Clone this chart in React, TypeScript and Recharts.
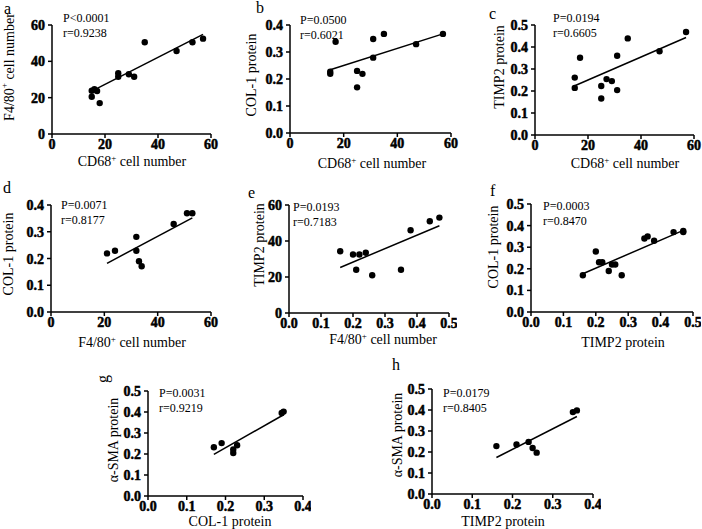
import React from "react";
import { Scatter, ScatterChart, XAxis, YAxis } from "recharts";

// panel a: CD68+ vs F4/80+
const aX = [15, 15, 16, 17, 18, 25, 25, 29, 31, 35, 47, 53, 57];
const aY = [20.5, 23.8, 24.6, 23.7, 17, 33.4, 31.5, 32.9, 31.5, 50.5, 45.7, 50.5, 52.5];
const aFit = [[15, 23.6], [57, 54.8]];

// panel b: CD68+ vs COL-1
const bX = [15, 15, 17, 25, 27, 25, 31, 31, 35, 47, 57];
const bY = [0.227, 0.219, 0.338, 0.23, 0.219, 0.169, 0.348, 0.279, 0.367, 0.329, 0.367];
const bFit = [[15, 0.234], [57, 0.367]];

// panel c: CD68+ vs TIMP2
const cX = [15, 15, 17, 25, 25, 27, 29, 31, 31, 35, 47, 57];
const cY = [0.261, 0.214, 0.351, 0.223, 0.166, 0.254, 0.245, 0.36, 0.204, 0.439, 0.381, 0.468];
const cFit = [[15, 0.224], [57, 0.443]];

// panel d: F4/80+ vs COL-1
const dX = [21, 24, 32, 32, 33, 34, 46, 51, 53];
const dY = [0.219, 0.229, 0.281, 0.229, 0.19, 0.171, 0.329, 0.369, 0.369];
const dFit = [[21, 0.182], [53, 0.352]];

// panel e
const eX = [0.16, 0.2, 0.22, 0.24, 0.21, 0.26, 0.35, 0.38, 0.44, 0.47];
const eY = [34.3, 32.5, 32.5, 33.5, 24, 21, 24, 46, 51, 53];
const eFit = [[0.16, 25.3], [0.47, 48.5]];

// panel f: TIMP2 vs COL-1
const fX = [0.16, 0.2, 0.21, 0.22, 0.24, 0.25, 0.26, 0.28, 0.35, 0.36, 0.38, 0.44, 0.47, 0.47];
const fY = [0.17, 0.28, 0.23, 0.23, 0.19, 0.22, 0.22, 0.17, 0.34, 0.35, 0.33, 0.37, 0.375, 0.37];
const fFit = [[0.16, 0.177], [0.47, 0.378]];

// panel g: COL-1 vs a-SMA
const gX = [0.17, 0.19, 0.22, 0.22, 0.23, 0.345, 0.35];
const gY = [0.232, 0.252, 0.222, 0.205, 0.242, 0.395, 0.402];
const gFit = [[0.17, 0.198], [0.35, 0.387]];

// panel h: TIMP2 vs a-SMA
const hX = [0.16, 0.21, 0.24, 0.25, 0.26, 0.35, 0.36];
const hY = [0.228, 0.236, 0.248, 0.219, 0.197, 0.39, 0.398];
const hFit = [[0.16, 0.174], [0.36, 0.369]];

const ticks60 = [0, 20, 40, 60];
const ticks04 = [0, 0.1, 0.2, 0.3, 0.4];
const ticks05 = [0, 0.1, 0.2, 0.3, 0.4, 0.5];

const SERIF = "'Liberation Serif', 'Times New Roman', 'DejaVu Serif', serif";

const toPoints = (xs: number[], ys: number[]) => xs.map((x, i) => ({ x, y: ys[i] }));
const fitPoints = (f: number[][]) => f.map(([x, y]) => ({ x, y }));

type PanelProps = {
  box: [number, number, number, number]; // x0, x1, y0, y1 of the plot area in page px
  xs: number[];
  ys: number[];
  fit: number[][];
  xTicks: number[];
  yTicks: number[];
};

const fmt = (ticks: number[]) => (v: number) =>
  ticks[ticks.length - 1] < 1 ? v.toFixed(1) : String(v);

const Dot = (p: any) => <circle cx={p.cx} cy={p.cy} r={3.2} fill="#000" />;
const NoDot = () => <g />;

// tick labels in the source are heavy bold serif
const tickStyle = { fontWeight: 700, fontFamily: SERIF, fontSize: 14 };

const XTick = (p: any) => (
  <text x={p.x} y={p.y + 9} textAnchor="middle" style={tickStyle} fill="#000" stroke="#000" strokeWidth={0.5}>
    {p.tickFormatter ? p.tickFormatter(p.payload.value) : p.payload.value}
  </text>
);
const YTick = (p: any) => (
  <text x={p.x - 1} y={p.y + 5} textAnchor="end" style={tickStyle} fill="#000" stroke="#000" strokeWidth={0.5}>
    {p.tickFormatter ? p.tickFormatter(p.payload.value) : p.payload.value}
  </text>
);

const Panel = ({ box, xs, ys, fit, xTicks, yTicks }: PanelProps) => {
  const [x0, x1, y0, y1] = box;
  const yw = 45;
  const top = 12;
  const right = 8;
  const xh = 26;
  const width = x1 - x0 + yw + right;
  const height = y1 - y0 + top + xh;
  return (
    <div style={{ position: "absolute", left: x0 - yw, top: y0 - top }}>
      <ScatterChart width={width} height={height} margin={{ top, right, bottom: 0, left: 0 }} style={{ overflow: "visible" }}>
        <XAxis
          type="number"
          dataKey="x"
          domain={[xTicks[0], xTicks[xTicks.length - 1]]}
          ticks={xTicks}
          tickFormatter={fmt(xTicks)}
          height={xh}
          tick={<XTick />}
          tickSize={4}
          axisLine={{ stroke: "#000", strokeWidth: 1.5 }}
          tickLine={{ stroke: "#000", strokeWidth: 1.5 }}
          interval={0}
        />
        <YAxis
          type="number"
          dataKey="y"
          domain={[yTicks[0], yTicks[yTicks.length - 1]]}
          ticks={yTicks}
          tickFormatter={fmt(yTicks)}
          width={yw}
          tick={<YTick />}
          tickSize={4}
          axisLine={{ stroke: "#000", strokeWidth: 1.5 }}
          tickLine={{ stroke: "#000", strokeWidth: 1.5 }}
          interval={0}
        />
        <Scatter
          data={fitPoints(fit)}
          line={{ stroke: "#000", strokeWidth: 1.5 }}
          shape={NoDot}
          isAnimationActive={false}
        />
        <Scatter data={toPoints(xs, ys)} shape={Dot} isAnimationActive={false} />
      </ScatterChart>
    </div>
  );
};

const Sup = ({ children }: { children: string }) => (
  <tspan fontSize={9} dy={-5}>
    {children}
  </tspan>
);
const Back = () => <tspan dy={5}> </tspan>;

const XTitle = ({ x, y, children }: { x: number; y: number; children: React.ReactNode }) => (
  <text x={x} y={y} textAnchor="middle" fontSize={14}>
    {children}
  </text>
);
const YTitle = ({ x, y, children }: { x: number; y: number; children: React.ReactNode }) => (
  <text
    transform={`translate(${x},${y}) rotate(-90)`}
    textAnchor="middle"
    dominantBaseline="central"
    fontSize={14}
  >
    {children}
  </text>
);
const Stats = ({ x, y, p, r }: { x: number; y: number; p: string; r: string }) => (
  <g fontSize={12}>
    <text x={x} y={y}>{p}</text>
    <text x={x} y={y + 15}>{r}</text>
  </g>
);

export default function App() {
  return (
    <div style={{ position: "absolute", left: 0, top: 0, width: 702, height: 529, background: "#fff", fontFamily: SERIF }}>
      <Panel box={[52, 211, 25, 134]} xs={aX} ys={aY} fit={aFit} xTicks={ticks60} yTicks={ticks60} />
      <Panel box={[290, 451, 25, 133]} xs={bX} ys={bY} fit={bFit} xTicks={ticks60} yTicks={ticks04} />
      <Panel box={[535, 694, 25, 135]} xs={cX} ys={cY} fit={cFit} xTicks={ticks60} yTicks={ticks05} />
      <Panel box={[51, 211, 205, 312]} xs={dX} ys={dY} fit={dFit} xTicks={ticks60} yTicks={ticks04} />
      <Panel box={[289, 449, 205, 313]} xs={eX} ys={eY} fit={eFit} xTicks={ticks05} yTicks={ticks60} />
      <Panel box={[531, 693, 204, 312]} xs={fX} ys={fY} fit={fFit} xTicks={ticks05} yTicks={ticks05} />
      <Panel box={[148, 303, 391, 496]} xs={gX} ys={gY} fit={gFit} xTicks={ticks04} yTicks={ticks05} />
      <Panel box={[432, 593, 389, 494]} xs={hX} ys={hY} fit={hFit} xTicks={ticks04} yTicks={ticks05} />

      <svg width={702} height={529} style={{ position: "absolute", left: 0, top: 0, pointerEvents: "none" }} fontFamily={SERIF} fill="#000">
        {/* panel letters */}
        <g fontSize={16}>
          <text x={4} y={14}>a</text>
          <text x={256} y={13}>b</text>
          <text x={489} y={19}>c</text>
          <text x={3} y={193}>d</text>
          <text x={248} y={198}>e</text>
          <text x={490} y={196}>f</text>
          <text transform="translate(108,379) rotate(-90)" textAnchor="middle">g</text>
          <text x={392} y={370}>h</text>
        </g>

        <Stats x={63} y={22} p="P<0.0001" r="r=0.9238" />
        <Stats x={300} y={24} p="P=0.0500" r="r=0.6021" />
        <Stats x={553} y={22} p="P=0.0194" r="r=0.6605" />
        <Stats x={61} y={209} p="P=0.0071" r="r=0.8177" />
        <Stats x={293} y={211} p="P=0.0193" r="r=0.7183" />
        <Stats x={543} y={210} p="P=0.0003" r="r=0.8470" />
        <Stats x={159} y={397} p="P=0.0031" r="r=0.9219" />
        <Stats x={443} y={397} p="P=0.0179" r="r=0.8405" />

        <XTitle x={132} y={166}>CD68<Sup>+</Sup><Back />cell number</XTitle>
        <XTitle x={372} y={168}>CD68<Sup>+</Sup><Back />cell number</XTitle>
        <XTitle x={625} y={168}>CD68<Sup>+</Sup><Back />cell number</XTitle>
        <XTitle x={132} y={347}>F4/80<Sup>+</Sup><Back />cell number</XTitle>
        <XTitle x={383} y={344}>F4/80<Sup>+</Sup><Back />cell number</XTitle>
        <XTitle x={623} y={347}>TIMP2 protein</XTitle>
        <XTitle x={230} y={526}>COL-1 protein</XTitle>
        <XTitle x={503} y={526}>TIMP2 protein</XTitle>

        <YTitle x={9} y={67}>F4/80<Sup>+</Sup><Back />cell number</YTitle>
        <YTitle x={251} y={75}>COL-1 protein</YTitle>
        <YTitle x={499} y={67}>TIMP2 protein</YTitle>
        <YTitle x={8} y={254}>COL-1 protein</YTitle>
        <YTitle x={259} y={245}>TIMP2 protein</YTitle>
        <YTitle x={493} y={247}>COL-1 protein</YTitle>
        <YTitle x={113} y={440}>α-SMA protein</YTitle>
        <YTitle x={397} y={435}>α-SMA protein</YTitle>
      </svg>
    </div>
  );
}
